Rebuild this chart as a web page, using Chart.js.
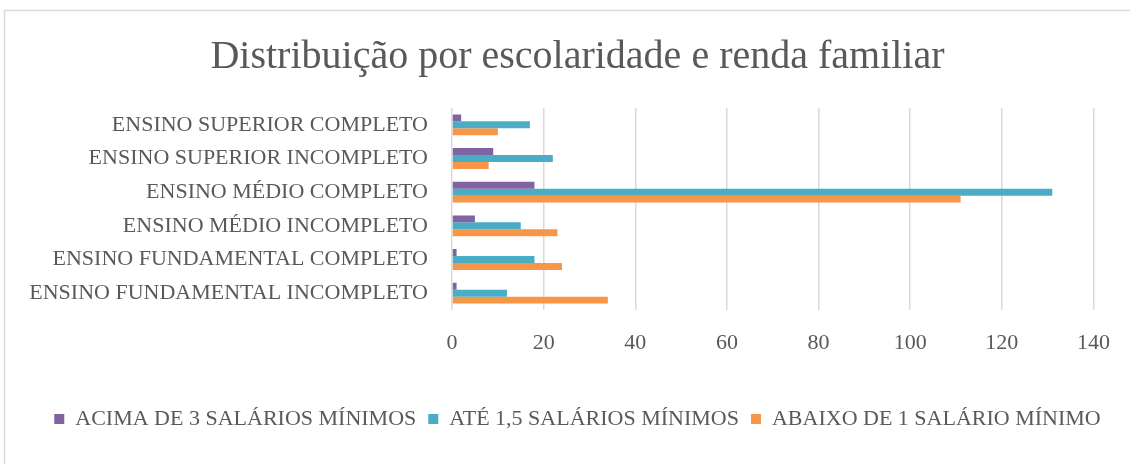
<!DOCTYPE html>
<html>
<head>
<meta charset="utf-8">
<script src="https://cdn.jsdelivr.net/npm/chart.js@4"></script>
<style>
  html, body { margin: 0; padding: 0; background: #fff; }
  #wrap { width: 1130px; height: 464px; }
</style>
</head>
<body>
<div id="wrap"><canvas id="chart" width="1130" height="464"></canvas></div>
<script>
const categories = [
    'ENSINO SUPERIOR COMPLETO',
    'ENSINO SUPERIOR INCOMPLETO',
    'ENSINO MÉDIO COMPLETO',
    'ENSINO MÉDIO INCOMPLETO',
    'ENSINO FUNDAMENTAL COMPLETO',
    'ENSINO FUNDAMENTAL INCOMPLETO'
];
const acima3 = [2, 9, 18, 5, 1, 1];
const ate15 = [17, 22, 131, 15, 18, 12];
const abaixo1 = [10, 8, 111, 23, 24, 34];
const seriesNames = ['ACIMA DE 3 SALÁRIOS MÍNIMOS', 'ATÉ 1,5 SALÁRIOS MÍNIMOS', 'ABAIXO DE 1 SALÁRIO MÍNIMO'];
const xTicks = [0, 20, 40, 60, 80, 100, 120, 140];

const FONT = "'Liberation Serif', 'DejaVu Serif', serif";
const TEXT = '#595959';

// white background + thin outer frame like the Excel chart box
const framePlugin = {
    id: 'frame',
    beforeDraw(chart) {
        const ctx = chart.ctx;
        ctx.save();
        ctx.fillStyle = '#fff';
        ctx.fillRect(0, 0, chart.width, chart.height);
        ctx.strokeStyle = '#d9d9d9';
        ctx.lineWidth = 1.5;
        ctx.strokeRect(4.5, 10.5, chart.width + 10, chart.height + 10);
        ctx.restore();
    }
};

const ctx = document.getElementById('chart').getContext('2d');
new Chart(ctx, {
    type: 'bar',
    data: {
        labels: categories,
        datasets: [
            { label: seriesNames[0], data: acima3, backgroundColor: '#8064A2' },
            { label: seriesNames[1], data: ate15, backgroundColor: '#4BACC6' },
            { label: seriesNames[2], data: abaixo1, backgroundColor: '#F79646' }
        ]
    },
    options: {
        indexAxis: 'y',
        responsive: false,
        animation: false,
        categoryPercentage: 0.62,
        barPercentage: 1.0,
        // negative right padding + empty right axis: keeps the plot where it is
        // but moves the centre of title/legend to the right, like the original
        layout: { padding: { top: 12, right: -25, bottom: 24, left: 0 } },
        scales: {
            x: {
                min: 0,
                max: 140,
                afterBuildTicks: (scale) => { scale.ticks = xTicks.map(v => ({ value: v })); },
                afterFit: (scale) => { scale.height = 86; },
                grid: { color: '#d9d9d9', lineWidth: 1.5, drawTicks: false },
                border: { display: false },
                ticks: {
                    color: TEXT,
                    padding: 20,
                    font: { family: FONT, size: 22 }
                }
            },
            y: {
                afterFit: (scale) => { scale.width = 452; },
                grid: { display: false },
                border: { display: false },
                ticks: {
                    color: TEXT,
                    padding: 16,
                    autoSkip: false,
                    font: { family: FONT, size: 22 }
                }
            },
            yRight: {
                type: 'linear',
                position: 'right',
                afterFit: (scale) => { scale.width = 60; },
                grid: { display: false },
                border: { display: false },
                ticks: { display: false }
            }
        },
        plugins: {
            title: {
                display: true,
                text: 'Distribuição por escolaridade e renda familiar',
                color: TEXT,
                font: { family: FONT, size: 40, weight: 'normal' },
                padding: { top: 21, bottom: 27 }
            },
            legend: {
                position: 'bottom',
                labels: {
                    color: TEXT,
                    boxWidth: 10,
                    boxHeight: 10,
                    padding: 12,
                    font: { family: FONT, size: 22 }
                }
            },
            tooltip: { enabled: true }
        }
    },
    plugins: [framePlugin]
});
</script>
</body>
</html>
